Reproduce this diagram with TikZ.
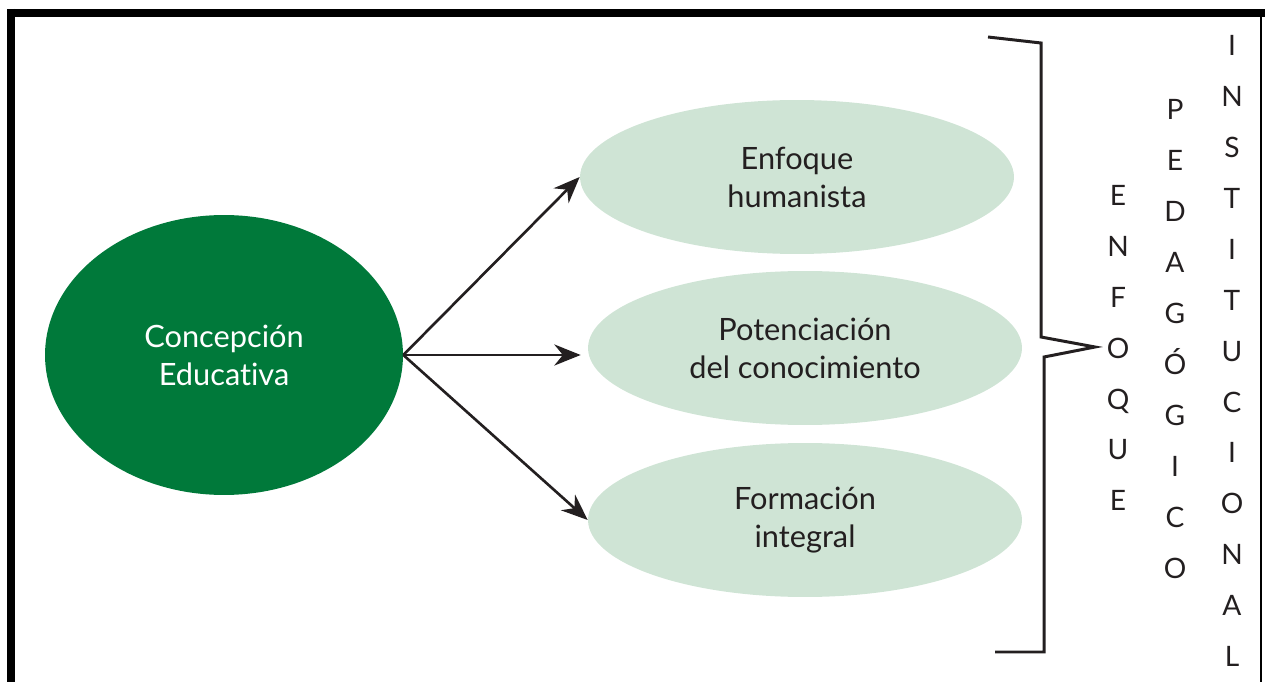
\documentclass[tikz,border=0pt]{standalone}
\usepackage{fontspec}
\setmainfont{Lato}[Ligatures=NoCommon]
\usetikzlibrary{shapes.geometric, arrows.meta}
\definecolor{darkgrn}{HTML}{00793A}
\definecolor{lightgrn}{HTML}{CFE4D5}
\definecolor{ink}{HTML}{231F20}
\tikzstyle{main} = [ellipse, minimum width=7.16cm, minimum height=5.6cm, inner sep=0pt, text centered, align=center, fill=darkgrn, text=white, font=\fontsize{17.5}{21.6}\selectfont]
\tikzstyle{branch} = [ellipse, minimum width=8.68cm, minimum height=3.08cm, inner sep=0pt, text centered, align=center, fill=lightgrn, text=ink, font=\fontsize{17.5}{21.6}\selectfont]
\tikzstyle{letters} = [align=center, inner sep=0pt, text=ink, font=\fontsize{16}{29}\selectfont]
\tikzstyle{arrow} = [line width=1.5pt, draw=ink, -{Stealth[length=15pt,width=12pt]}]
\begin{document}
\begin{tikzpicture}[x=0.02cm, y=-0.02cm]
\useasboundingbox (0,0) rectangle (1265,682);
% frame
\draw [line width=4.6pt] (7,13) -- (1265,13);
\draw [line width=4.6pt] (11,9) -- (11,682);
\draw [line width=1.4pt] (1261,13) -- (1261,682);
% ellipses
\node (cncp) [main] at (224,355) {Concepción\\Educativa};
\node (enfh) [branch] at (797,177) {Enfoque\\humanista};
\node (ptnc) [branch] at (805,348) {Potenciación\\del conocimiento};
\node (form) [branch] at (805,520) {Formación\\integral};
\draw [arrow] (cncp.east) -- (enfh.west);
\draw [arrow] (cncp.east) -- ([xshift=-4pt]cncp.east -| ptnc.west);
\draw [arrow] (cncp.east) -- (form.west);
% brace
\draw [line width=1.7pt, draw=ink, line join=miter] (988,37) -- (1041,43) -- (1041,337) -- (1095,347) -- (1044,357) -- (1044,652) -- (995,652);
% vertical words
\node (enfq) [letters] at (1118,348) {E\\N\\F\\O\\Q\\U\\E};
\node (pdgg) [letters] at (1175,339) {P\\E\\D\\A\\G\\Ó\\G\\I\\C\\O};
\node (inst) [letters] at (1232,351) {I\\N\\S\\T\\I\\T\\U\\C\\I\\O\\N\\A\\L};
\end{tikzpicture}
\end{document}
